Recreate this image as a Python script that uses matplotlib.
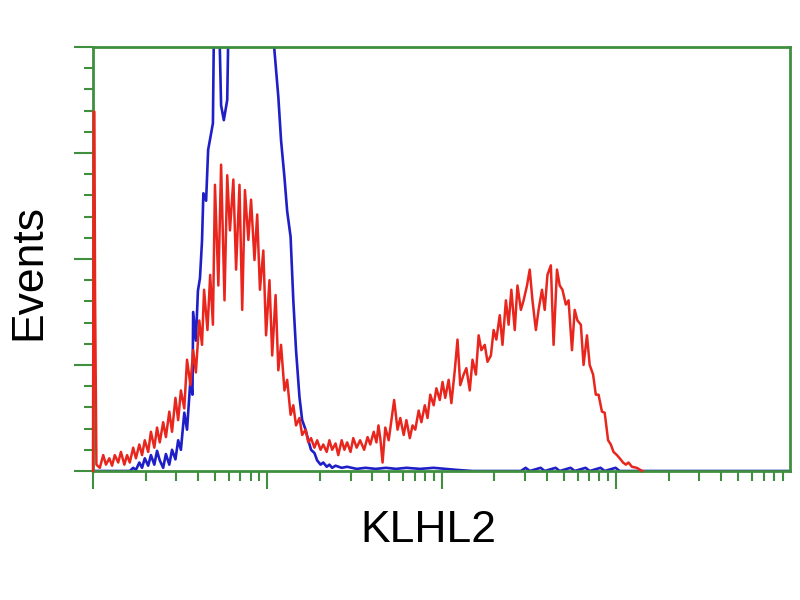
import numpy as np
import matplotlib
matplotlib.use('Agg')
import matplotlib.pyplot as plt
from matplotlib.ticker import FixedLocator, MultipleLocator, NullFormatter

# histogram channels (0-1023 over 4 log decades) and event counts
red_ch = [0, 1, 2, 3, 5, 10, 15, 19, 24, 28, 32, 37, 41, 46, 50, 54, 59, 63, 68, 72,
          76, 81, 85, 90, 94, 98, 103, 107, 112, 116, 121, 125, 129, 134, 138, 143, 147, 151, 156, 160,
          163, 168, 172, 176, 179, 184, 188, 193, 197, 201, 206, 210, 215, 219, 223, 228, 232, 237, 241, 245,
          250, 254, 259, 263, 268, 272, 276, 281, 285, 290, 294, 298, 303, 307, 312, 316, 320, 325, 329, 334,
          338, 343, 347, 351, 356, 360, 365, 369, 373, 378, 382, 387, 392, 398, 403, 407, 412, 416, 419, 422,
          425, 429, 434, 438, 442, 447, 451, 456, 460, 465, 469, 473, 478, 482, 487, 491, 495, 500, 504, 509,
          513, 517, 522, 526, 531, 535, 539, 544, 548, 553, 557, 562, 566, 570, 575, 579, 584, 588, 592, 597,
          601, 606, 610, 614, 619, 623, 628, 632, 637, 641, 645, 650, 654, 659, 663, 667, 672, 676, 681, 685,
          689, 694, 698, 703, 707, 711, 716, 720, 725, 729, 734, 738, 742, 747, 751, 756, 760, 764, 769, 773,
          778, 782, 786, 791, 798, 806]
red_n = [0, 339, 339, 169, 6, 3, 15, 6, 12, 5, 15, 8, 18, 6, 15, 8, 22, 12, 25, 15,
         29, 18, 37, 22, 41, 27, 46, 32, 56, 37, 69, 48, 76, 59, 105, 81, 114, 93, 142, 119,
         171, 133, 185, 138, 270, 175, 289, 161, 279, 227, 275, 190, 270, 152, 265, 218, 256, 199, 242, 171,
         208, 128, 180, 109, 166, 95, 119, 76, 86, 53, 62, 43, 50, 34, 39, 27, 31, 22, 29, 20,
         25, 18, 29, 20, 26, 15, 29, 20, 27, 18, 31, 22, 29, 20, 32, 25, 37, 27, 43, 29,
         8, 41, 29, 48, 67, 39, 50, 34, 48, 31, 43, 39, 57, 46, 62, 50, 72, 62, 78, 67,
         84, 69, 86, 64, 95, 124, 81, 91, 97, 76, 105, 91, 128, 114, 119, 103, 109, 133, 124, 147,
         119, 161, 138, 171, 133, 175, 152, 161, 175, 190, 161, 133, 152, 171, 152, 185, 194, 119, 190, 175,
         171, 157, 161, 114, 152, 142, 138, 100, 128, 100, 91, 72, 72, 56, 55, 29, 25, 18, 15, 12,
         8, 6, 8, 4, 3, 0]

blue_ch = [0, 54, 59, 63, 68, 72, 76, 81, 85, 90, 94, 98, 103, 107, 112, 116, 121, 125, 129, 134,
           138, 143, 146, 147, 151, 154, 157, 160, 162, 166, 169, 176, 178, 184, 188, 192, 197, 200, 263, 266,
           272, 276, 281, 285, 290, 294, 298, 303, 307, 312, 316, 320, 325, 329, 334, 338, 343, 347, 351, 356,
           365, 373, 387, 400, 415, 430, 445, 460, 480, 500, 517, 535, 557, 628, 635, 641, 657, 663, 679, 685,
           701, 707, 723, 729, 745, 751, 767, 773, 1023]
blue_n = [0, 0, 3, 1, 8, 3, 12, 5, 15, 6, 19, 10, 3, 16, 6, 20, 11, 29, 20, 55,
          39, 86, 72, 150, 123, 170, 182, 217, 262, 255, 303, 328, 450, 460, 345, 331, 350, 470, 470, 399,
          353, 312, 277, 245, 221, 161, 114, 70, 48, 39, 29, 20, 17, 10, 6, 8, 4, 6, 3, 5,
          3, 4, 2, 3, 2, 3, 2, 3, 2, 3, 2, 1, 0, 0, 3, 0, 3, 0, 3, 0,
          3, 0, 3, 0, 3, 0, 3, 0, 0]

green = '#3f8f3f'

fig = plt.figure(figsize=(8, 6), dpi=100)
ax = fig.add_axes([93 / 800, 129 / 600, 697 / 800, 424 / 600])

ax.plot(10 ** (np.array(blue_ch) / 256), blue_n, color='#1f1fc8', lw=1.9)
ax.plot(10 ** (np.array(red_ch) / 256), red_n, color='#e8261e', lw=1.8,
        zorder=3, clip_on=False)

ax.set_xscale('log')
ax.set_xlim(1, 10 ** (1023 / 256))
ax.set_ylim(0, 400)

for s in ax.spines.values():
    s.set_color(green)
    s.set_linewidth(2)

ax.yaxis.set_major_locator(MultipleLocator(100))
ax.yaxis.set_minor_locator(MultipleLocator(20))
major_x = [1, 10, 100, 1000, 10000]
minor_x = [k * 10 ** d for d in range(4) for k in range(2, 10)]
ax.xaxis.set_major_locator(FixedLocator(major_x))
ax.xaxis.set_minor_locator(FixedLocator(minor_x))
ax.xaxis.set_major_formatter(NullFormatter())
ax.xaxis.set_minor_formatter(NullFormatter())
ax.yaxis.set_major_formatter(NullFormatter())
ax.tick_params(axis='both', which='both', direction='out', color=green, width=1.5)
ax.tick_params(axis='y', which='major', length=14)
ax.tick_params(axis='y', which='minor', length=6.5)
ax.tick_params(axis='x', which='major', length=13)
ax.tick_params(axis='x', which='minor', length=7)

fig.text(428 / 800, 1 - 530 / 600, 'KLHL2', ha='center', va='center',
         fontsize=32, family=['Liberation Sans', 'DejaVu Sans'])
fig.text(29 / 800, 1 - 272 / 600, 'Events', ha='center', va='center', rotation=90,
         fontsize=32, family=['Liberation Sans', 'DejaVu Sans'])

fig.savefig('out.png', dpi=100)
